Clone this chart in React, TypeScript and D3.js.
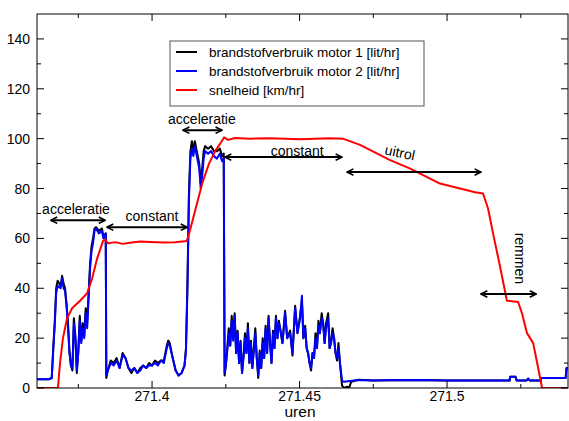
import React from "react";
import * as d3 from "d3";

const speed: [number, number][] = [
  [271.361,0],[271.3681,0],[271.3688,10],[271.3698,20],[271.3712,28],[271.3729,32],[271.3756,35],[271.378,38],[271.3797,44],[271.3814,52],[271.3834,59],[271.3841,59.5],[271.3851,58],[271.3875,58.5],[271.39,57.8],[271.3925,58.3],[271.396,58.8],[271.3993,58.6],[271.404,58.4],[271.4078,58.5],[271.4118,59],[271.4128,63],[271.4148,72],[271.417,82],[271.4193,90],[271.4214,95],[271.4231,98],[271.4244,100.5],[271.4258,99.5],[271.4281,100.3],[271.4332,100],[271.44,100.2],[271.4502,99.8],[271.4603,100.2],[271.4647,100],[271.4705,97.5],[271.4807,91.4],[271.4875,88],[271.4976,82],[271.5044,80],[271.5095,78.5],[271.5122,78],[271.5139,72],[271.5156,62],[271.518,48.5],[271.5203,35],[271.5241,34.5],[271.5254,30],[271.5271,22],[271.5292,18],[271.5308,8.5],[271.5319,2],[271.5322,0],[271.541,0],
];

const motor2: [number, number][] = [
  [271.361,3.5],[271.365,3.5],[271.366,4],[271.3665,15],[271.367,25],[271.3675,38],[271.368,41],[271.369,40],[271.3695,44],[271.37,40],[271.3705,39],[271.371,33],[271.3715,25],[271.372,14],[271.3725,9],[271.373,8],[271.3735,26],[271.374,20],[271.3745,7],[271.375,14],[271.3755,27],[271.376,18],[271.3765,24],[271.377,20],[271.3775,30],[271.378,24],[271.3785,36],[271.379,48],[271.3795,55],[271.38,58],[271.3805,63],[271.381,64],[271.382,62],[271.383,63],[271.3835,60],[271.3843,62],[271.3845,5],[271.385,7],[271.386,10],[271.387,9],[271.388,11],[271.389,8],[271.39,13],[271.391,12],[271.392,8],[271.393,7],[271.394,8],[271.395,6],[271.396,7],[271.397,9],[271.398,8],[271.399,9],[271.4,9],[271.401,10],[271.402,9],[271.403,11],[271.404,10],[271.405,16],[271.4055,18],[271.406,17],[271.407,12],[271.408,7],[271.409,5],[271.41,6],[271.411,9],[271.4115,15],[271.412,40],[271.4125,75],[271.413,92],[271.4135,96],[271.414,93],[271.4145,97],[271.415,94],[271.416,88],[271.4165,80],[271.417,85],[271.4175,92],[271.418,95],[271.419,94],[271.42,95],[271.421,93],[271.422,92],[271.423,94],[271.4237,91],[271.4243,92],[271.4246,6],[271.425,9],[271.4255,15],[271.426,22],[271.4265,17],[271.427,27],[271.4275,19],[271.428,29],[271.4285,14],[271.429,22],[271.4295,10],[271.43,18],[271.4305,6],[271.431,12],[271.4315,20],[271.432,14],[271.4325,24],[271.433,10],[271.4335,18],[271.434,8],[271.4345,15],[271.435,22],[271.4355,12],[271.436,5],[271.4365,14],[271.437,8],[271.4375,18],[271.438,12],[271.4385,24],[271.439,14],[271.4395,28],[271.44,18],[271.4405,10],[271.441,22],[271.4415,16],[271.442,28],[271.4425,20],[271.443,26],[271.4434,24],[271.4442,18],[271.4451,30],[271.4458,20],[271.4468,22],[271.4476,14],[271.4485,32],[271.4493,22],[271.4502,28],[271.4508,37],[271.4513,20],[271.4519,24],[271.4524,16],[271.4529,14],[271.4534,10],[271.4539,8],[271.4544,14],[271.4549,12],[271.4554,20],[271.4559,16],[271.4564,25],[271.4569,22],[271.4575,28],[271.458,26],[271.4585,18],[271.459,24],[271.4597,28],[271.4602,16],[271.4607,18],[271.4612,22],[271.4617,20],[271.4622,14],[271.4627,12],[271.4632,16],[271.4637,10],[271.4644,3],[271.465,2.5],[271.47,3.2],[271.475,3],[271.48,3.1],[271.49,3.2],[271.5,3],[271.51,3],[271.5212,3],[271.5214,4.5],[271.5232,4.5],[271.5236,3],[271.527,3],[271.5275,3.8],[271.528,3],[271.5318,3],[271.5319,4],[271.5402,4],[271.5405,8],[271.541,8],
];

const motor1: [number, number][] = [
  [271.361,3.5],[271.365,3.5],[271.366,4],[271.3665,16],[271.367,26],[271.3675,40],[271.368,43],[271.369,41],[271.3695,45],[271.37,42],[271.3705,40],[271.371,34],[271.3715,26],[271.372,15],[271.3725,9],[271.373,7],[271.3735,28],[271.374,21],[271.3745,6],[271.375,15],[271.3755,29],[271.376,19],[271.3765,26],[271.377,21],[271.3775,32],[271.378,26],[271.3785,38],[271.379,50],[271.3795,57],[271.38,60],[271.3805,64],[271.381,64.5],[271.382,63],[271.383,64],[271.3835,61],[271.3843,62],[271.3845,4],[271.385,7],[271.386,11],[271.387,10],[271.388,12],[271.389,8],[271.39,14],[271.391,12],[271.392,8],[271.393,6],[271.394,8],[271.395,6],[271.396,8],[271.397,9],[271.398,8],[271.399,10],[271.4,9],[271.401,11],[271.402,10],[271.403,11],[271.404,11],[271.405,17],[271.4055,19],[271.406,18],[271.407,12],[271.408,7],[271.409,5],[271.41,6],[271.411,9],[271.4115,16],[271.412,42],[271.4125,78],[271.413,95],[271.4135,99],[271.414,95],[271.4145,99],[271.415,96],[271.416,90],[271.4165,82],[271.417,88],[271.4175,95],[271.418,97],[271.419,96],[271.42,97],[271.421,95],[271.422,95],[271.423,96],[271.4237,93],[271.4243,94],[271.4246,5],[271.425,9],[271.4255,16],[271.426,24],[271.4265,17],[271.427,29],[271.4275,20],[271.428,30],[271.4285,14],[271.429,23],[271.4295,10],[271.43,19],[271.4305,6],[271.431,13],[271.4315,22],[271.432,14],[271.4325,26],[271.433,10],[271.4335,19],[271.434,8],[271.4345,16],[271.435,24],[271.4355,12],[271.436,4],[271.4365,15],[271.437,8],[271.4375,20],[271.438,12],[271.4385,25],[271.439,14],[271.4395,29],[271.44,18],[271.4405,10],[271.441,23],[271.4415,16],[271.442,29],[271.4425,20],[271.443,27],[271.4434,24],[271.4442,18],[271.4451,31],[271.4458,20],[271.4468,23],[271.4476,13],[271.4485,33],[271.4493,22],[271.4502,29],[271.4508,35],[271.4513,20],[271.4519,25],[271.4524,16],[271.4529,14],[271.4534,10],[271.4539,7],[271.4544,14],[271.4549,12],[271.4554,22],[271.4559,16],[271.4564,27],[271.4569,22],[271.4575,30],[271.458,26],[271.4585,18],[271.459,26],[271.4597,30],[271.4602,16],[271.4607,19],[271.4612,24],[271.4617,20],[271.4622,14],[271.4627,11],[271.4632,18],[271.4637,10],[271.4644,1],[271.465,0],[271.4662,0.5],[271.4668,0],[271.4675,2.5],[271.47,3.3],[271.475,3],[271.48,3.1],[271.49,3.2],[271.5,3],[271.51,3],[271.5212,3],[271.5214,4.5],[271.5232,4.5],[271.5236,3],[271.527,3],[271.5275,3.8],[271.528,3],[271.5318,3],[271.5319,4],[271.5402,4],[271.5405,8],[271.541,8],
];

const yTicks = [0, 20, 40, 60, 80, 100, 120, 140];
const xTicks = [271.4, 271.45, 271.5];
const xMinor = [271.375, 271.425, 271.475, 271.525];
const legendLabels = ["brandstofverbruik motor 1 [lit/hr]", "brandstofverbruik motor 2 [lit/hr]", "snelheid [km/hr]"];
const seriesColors = ["#000000", "#0000ff", "#ff0000"];

// arrows: [t1, t2, value]
const arrows: [number, number, number][] = [
  [271.3657, 271.3841, 67.3],
  [271.3847, 271.4119, 64.5],
  [271.4105, 271.4237, 103.4],
  [271.4247, 271.4644, 92.6],
  [271.4661, 271.5115, 86.6],
  [271.5115, 271.5302, 37.7],
];
// labels: [text, t, value, rotation]
const labels: [string, number, number, number][] = [
  ["acceleratie", 271.3742, 69.7, 0],
  ["constant", 271.4, 67, 0],
  ["acceleratie", 271.4169, 105.8, 0],
  ["constant", 271.4492, 93, 0],
  ["uitrol", 271.4837, 92.5, 12],
  ["remmen", 271.5247, 52, 90],
];

export default function App() {
  const W = 569, H = 421;
  const L = 37, R = 568, T = 14, B = 388;
  const x = d3.scaleLinear().domain([271.361, 271.541]).range([L, R]);
  const y = d3.scaleLinear().domain([0, 150]).range([B, T]);
  const line = d3.line<[number, number]>().x(d => x(d[0])).y(d => y(d[1]));
  const font = "'Liberation Sans', Arial, sans-serif";
  const yMinor = d3.range(10, 150, 20);
  return (
    <svg width={W} height={H} style={{ position: "absolute", left: 0, top: 0, background: "#fff" }} fontFamily={font}>
      <defs>
        <marker id="ah" viewBox="0 0 10 10" refX="9" refY="5" markerWidth="8" markerHeight="8" orient="auto-start-reverse" markerUnits="userSpaceOnUse">
          <path d="M1,1 L9,5 L1,9" fill="none" stroke="#000" strokeWidth="2" />
        </marker>
        <clipPath id="cp"><rect x={L} y={T} width={R - L} height={B - T} /></clipPath>
      </defs>
      <g clipPath="url(#cp)" fill="none" strokeWidth={2} strokeLinejoin="round">
        <path d={line(motor1)!} stroke={seriesColors[0]} />
        <path d={line(motor2)!} stroke={seriesColors[1]} />
        <path d={line(speed)!} stroke={seriesColors[2]} />
      </g>
      <rect x={L} y={T} width={R - L} height={B - T} fill="none" stroke="#000" strokeWidth={1} />
      {yTicks.map(v => (
        <g key={"y" + v}>
          <line x1={L} x2={L + 7} y1={y(v)} y2={y(v)} stroke="#000" />
          <line x1={R} x2={R - 7} y1={y(v)} y2={y(v)} stroke="#000" />
          <text x={L - 7} y={y(v) + 5} textAnchor="end" fontSize={14}>{v}</text>
        </g>
      ))}
      {yMinor.map(v => (
        <g key={"ym" + v}>
          <line x1={L} x2={L + 4} y1={y(v)} y2={y(v)} stroke="#000" />
          <line x1={R} x2={R - 4} y1={y(v)} y2={y(v)} stroke="#000" />
        </g>
      ))}
      {xTicks.map(v => (
        <g key={"x" + v}>
          <line x1={x(v)} x2={x(v)} y1={B} y2={B - 7} stroke="#000" />
          <line x1={x(v)} x2={x(v)} y1={T} y2={T + 7} stroke="#000" />
          <text x={x(v)} y={B + 13} textAnchor="middle" fontSize={14}>{v}</text>
        </g>
      ))}
      {xMinor.map(v => (
        <g key={"xm" + v}>
          <line x1={x(v)} x2={x(v)} y1={B} y2={B - 4} stroke="#000" />
          <line x1={x(v)} x2={x(v)} y1={T} y2={T + 4} stroke="#000" />
        </g>
      ))}
      <text x={300} y={417} textAnchor="middle" fontSize={15.5}>uren</text>
      <g>
        <rect x={170} y={41} width={254} height={65} fill="#fff" stroke="#555" />
        {legendLabels.map((s, i) => (
          <g key={s}>
            <line x1={176} x2={197} y1={52 + i * 19} y2={52 + i * 19} stroke={seriesColors[i]} strokeWidth={2} />
            <text x={209} y={57 + i * 19} fontSize={13.5}>{s}</text>
          </g>
        ))}
      </g>
      {arrows.map((a, i) => (
        <line key={"a" + i} x1={x(a[0])} x2={x(a[1])} y1={y(a[2])} y2={y(a[2])} stroke="#000" strokeWidth={2}
          markerStart="url(#ah)" markerEnd="url(#ah)" />
      ))}
      {labels.map((l, i) => (
        <text key={"l" + i} transform={`translate(${x(l[1])},${y(l[2])}) rotate(${l[3]})`} textAnchor="middle" fontSize={14}
          dy={l[3] === 90 ? 5 : 0}>{l[0]}</text>
      ))}
    </svg>
  );
}
